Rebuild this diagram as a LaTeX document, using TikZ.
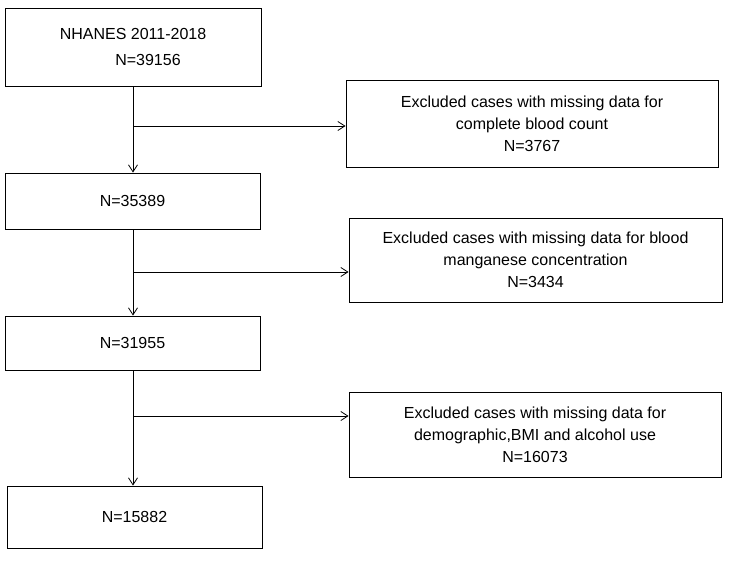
\documentclass[tikz,border=0pt]{standalone}
\usepackage{fontspec}
\setmainfont{Liberation Sans}
\usetikzlibrary{arrows.meta}
\begin{document}
\begin{tikzpicture}[x=1pt,y=-1pt,
  box/.style={draw,line width=0.9pt,inner sep=0pt,font=\fontsize{16}{22}\selectfont,align=center},
  ln/.style={line width=0.8pt},
  arr/.style={ln,->,>={Straight Barb[length=7pt,width=9pt]}}]
\useasboundingbox (0,0) rectangle (734,584);
\node[box,minimum width=256pt,minimum height=78pt] (a) at (133,47) {NHANES 2011-2018\\[4pt]\hspace*{30pt}N=39156};
\node[box,minimum width=372pt,minimum height=87pt] (ea) at (532,123.5) {Excluded cases with missing data for\\complete blood count\\N=3767};
\node[box,minimum width=255pt,minimum height=56pt] (b) at (132.5,201) {N=35389};
\node[box,minimum width=373pt,minimum height=84pt] (eb) at (535.5,260) {Excluded cases with missing data for blood\\manganese concentration\\N=3434};
\node[box,minimum width=255pt,minimum height=54pt] (c) at (132.5,343) {N=31955};
\node[box,minimum width=372pt,minimum height=85pt] (ec) at (535,434.5) {Excluded cases with missing data for\\demographic,BMI and alcohol use\\N=16073};
\node[box,minimum width=255pt,minimum height=62pt] (d) at (134.5,517) {N=15882};
\draw[arr] (a.south -| 133,0) -- (b.north -| 133,0);
\draw[arr] (b.south -| 133,0) -- (c.north -| 133,0);
\draw[arr] (c.south -| 133,0) -- (d.north -| 133,0);
\coordinate (p1) at (133,126); \draw[arr] (p1) -- (p1 -| ea.west);
\coordinate (p2) at (133,272); \draw[arr] (p2) -- (p2 -| eb.west);
\coordinate (p3) at (133,416); \draw[arr] (p3) -- (p3 -| ec.west);
\end{tikzpicture}
\end{document}
